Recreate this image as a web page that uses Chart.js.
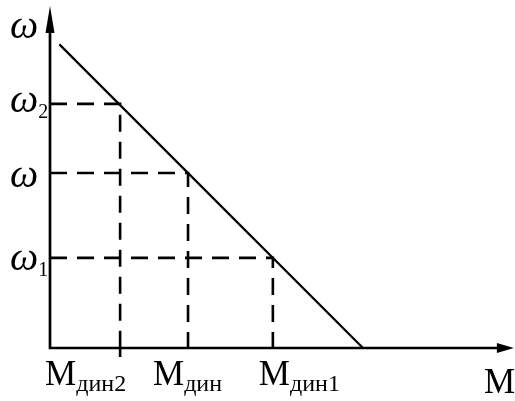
<!DOCTYPE html>
<html><head><meta charset="utf-8">
<script src="https://cdn.jsdelivr.net/npm/chart.js@4/dist/chart.umd.min.js"></script>
<style>html,body{margin:0;padding:0;background:#fff;overflow:hidden}canvas{display:block}</style>
</head><body>
<canvas id="c" width="515" height="401"></canvas>
<script>
// Mechanical characteristic ω(M) of the drive
const lineM = [0.3, 10.0];
const lineOmega = [9.7, 0.0];

// Operating points: speed levels and the dynamic torques they give
const levelM = [2.24, 4.41, 7.12];
const levelOmega = [7.8, 5.59, 2.88];
const omegaSubs = ['2', '', '1'];
const torqueSubs = ['дин2', 'дин', 'дин1'];

// Axis extents (arrow tips) in data units
const axisMaxM = 14.82;
const axisMaxOmega = 10.93;

const SERIF = '"Liberation Serif", "Times New Roman", serif';

const datasets = [{
  data: lineM.map((m, i) => ({x: m, y: lineOmega[i]})),
  borderColor: '#000', borderWidth: 2.2, pointRadius: 0, showLine: true, tension: 0
}];
levelM.forEach((m, i) => {
  datasets.push({
    data: [{x: 0, y: levelOmega[i]}, {x: m, y: levelOmega[i]}, {x: m, y: 0}],
    borderColor: '#000', borderWidth: 2.6, borderDash: [17, 10],
    pointRadius: 0, showLine: true, tension: 0
  });
});

// label placement tweaks (pixels)
const omegaLabelDy = [8, 14, 12];
const torqueLabelLeft = [-75, -35, -14];

function drawArrow(ctx, tipX, tipY, dx, dy, len, half) {
  const bx = tipX - dx * len, by = tipY - dy * len;
  ctx.beginPath();
  ctx.moveTo(tipX, tipY);
  ctx.lineTo(bx - dy * half, by + dx * half);
  ctx.lineTo(bx + dy * half, by - dx * half);
  ctx.closePath();
  ctx.fill();
}

function subText(ctx, x, y, main, sub, mainFont, subFont, subDy) {
  ctx.font = mainFont;
  ctx.fillText(main, x, y);
  const w = ctx.measureText(main).width;
  if (sub) {
    ctx.font = subFont;
    ctx.fillText(sub, x + w, y + subDy);
  }
}

const axesPlugin = {
  id: 'axesAndLabels',
  afterDatasetsDraw(chart) {
    const {ctx, scales: {x, y}} = chart;
    const x0 = x.getPixelForValue(0), y0 = y.getPixelForValue(0);
    const xTip = x.getPixelForValue(axisMaxM), yTip = y.getPixelForValue(axisMaxOmega);
    ctx.save();
    ctx.strokeStyle = '#000';
    ctx.fillStyle = '#000';
    ctx.lineWidth = 2.7;
    ctx.beginPath();
    ctx.moveTo(x0, yTip + 20); ctx.lineTo(x0, y0);
    ctx.lineTo(xTip - 12, y0);
    ctx.stroke();
    drawArrow(ctx, x0, yTip, 0, -1, 27, 4.5);
    drawArrow(ctx, xTip, y0, 1, 0, 17, 5);

    // short dashed tail below the axis at the first torque mark
    ctx.lineWidth = 2.6;
    ctx.beginPath();
    const mx = x.getPixelForValue(levelM[0]);
    ctx.moveTo(mx, y0); ctx.lineTo(mx, y0 + 9);
    ctx.stroke();

    ctx.textAlign = 'left';
    ctx.textBaseline = 'alphabetic';
    const omegaFont = 'italic 40px ' + SERIF;
    const idxFont = '20px ' + SERIF;
    ctx.font = omegaFont;
    ctx.fillText('ω', 10, 38);
    levelOmega.forEach((w, i) => {
      const py = y.getPixelForValue(w) + omegaLabelDy[i];
      subText(ctx, 10, py, 'ω', omegaSubs[i], omegaFont, idxFont, 6);
    });

    const mFont = '35px ' + SERIF;
    const dinFont = '24px ' + SERIF;
    levelM.forEach((m, i) => {
      const px = x.getPixelForValue(m) + torqueLabelLeft[i];
      subText(ctx, px, 385, 'М', torqueSubs[i], mFont, dinFont, 6);
    });
    ctx.font = mFont;
    ctx.fillText('М', 484, 393);
    ctx.restore();
  }
};

new Chart(document.getElementById('c'), {
  type: 'scatter',
  data: {datasets},
  options: {
    responsive: false,
    animation: false,
    layout: {padding: {left: 50, right: 0, top: 0, bottom: 53}},
    plugins: {legend: {display: false}, tooltip: {enabled: false}},
    scales: {
      x: {type: 'linear', display: false, min: 0, max: 465 / 31.3},
      y: {type: 'linear', display: false, min: 0, max: 348 / 31.3}
    }
  },
  plugins: [axesPlugin]
});
</script>
</body></html>
